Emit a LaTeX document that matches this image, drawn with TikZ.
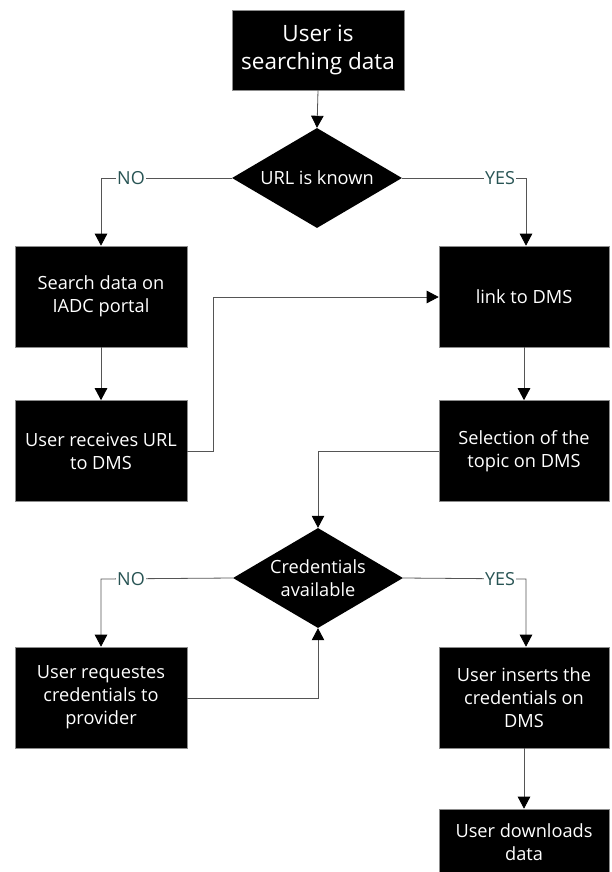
\documentclass[tikz,border=0pt]{standalone}
\usepackage{fontspec}
\setmainfont{Open Sans}
\usetikzlibrary{shapes.geometric,arrows.meta}
\definecolor{lbl}{RGB}{40,84,84}
\definecolor{ln}{RGB}{85,85,85}
\tikzset{
  box/.style={rectangle, fill=black, draw=black!45, line width=0.6pt, text=white,
    minimum width=172pt, minimum height=101pt, inner sep=0pt, align=center,
    font=\fontsize{18.2}{23}\selectfont},
  dec/.style={diamond, fill=black, text=white, inner sep=0pt, aspect=1.7,
    minimum width=170pt, minimum height=100pt, align=center,
    font=\fontsize{18.2}{23}\selectfont},
  conn/.style={draw=ln, line width=0.8pt, -{Triangle[width=12.5pt,length=12pt,fill=black,color=black]}},
  yn/.style={fill=white, text=lbl, inner sep=1pt, font=\fontsize{18}{20}\selectfont}
}
\begin{document}
\begin{tikzpicture}[x=1pt,y=-1pt]
\useasboundingbox (0,0) rectangle (611,872);
\clip (0,0) rectangle (611,872);
\node[box, minimum width=172pt, minimum height=80pt, font=\fontsize{22.5}{28}\selectfont] (start) at (318,50) {User is\\searching data};
\node[dec] (d1) at (317,178) {URL is known};
\node[box] (s1) at (101,296.5) {Search data on\\IADC portal};
\node[box] (r1) at (101,451) {User receives URL\\to DMS};
\node[box, minimum width=170pt] (link) at (524,296.5) {link to DMS};
\node[box, minimum width=170pt] (sel) at (524,451) {Selection of the\\topic on DMS};
\node[dec] (d2) at (318,578) {Credentials\\available};
\node[box] (req) at (101,697.5) {User requestes\\credentials to\\provider};
\node[box, minimum width=170pt] (ins) at (524,697.5) {User inserts the\\credentials on\\DMS};
\node[box, minimum width=170pt, minimum height=66pt] (dl) at (524,842) {User downloads\\data};

\coordinate (c1) at (101,178);
\coordinate (c2) at (526,178);
\coordinate (c3a) at (213,451);
\coordinate (c3b) at (213,297);
\coordinate (c4a) at (318,451);
\coordinate (c5) at (101,579);
\coordinate (c6) at (526,579);
\coordinate (c7) at (318,698);

\draw[conn] (start.south) -- (d1.north);
\draw[conn] (d1.west) -- (c1) -- (s1.north);
\node[yn] (no1) at (131,178) {NO};
\draw[conn] (d1.east) -- (c2) -- (c2 |- link.north);
\node[yn] (yes1) at (500,178) {YES};
\draw[conn] (s1.south) -- (r1.north);
\draw[conn] (r1.east |- c3a) -- (c3a) -- (c3b) -- (link.west |- c3b);
\draw[conn] (link.south) -- (sel.north);
\draw[conn] (sel.west |- c4a) -- (c4a) -- (d2.north);
\draw[conn] (d2.west) -- (c5) -- (req.north);
\node[yn] (no2) at (131,579) {NO};
\draw[conn] (d2.east) -- (c6) -- (c6 |- ins.north);
\node[yn] (yes2) at (500,579) {YES};
\draw[conn] (req.east |- c7) -- (c7) -- (d2.south);
\draw[conn] (ins.south) -- (dl.north);
\end{tikzpicture}
\end{document}
